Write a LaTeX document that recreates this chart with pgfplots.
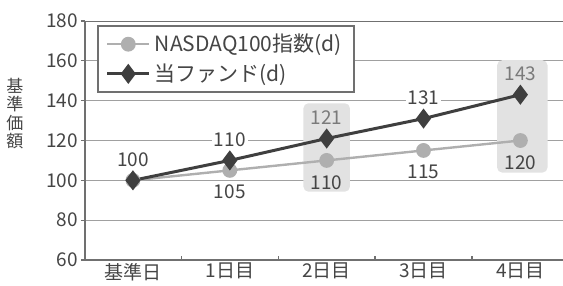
\documentclass[border=0pt]{standalone}
\usepackage{pgfplots}
\pgfplotsset{compat=1.18}
\usepackage{fontspec}
\setmainfont{Noto Sans CJK JP}
\usetikzlibrary{calc}
\definecolor{fundc}{HTML}{3F3F3F}
\definecolor{nasc}{HTML}{AFAFAF}
\definecolor{boxc}{HTML}{E2E2E2}
\definecolor{gridc}{HTML}{A0A0A0}
\definecolor{axc}{HTML}{707070}
\definecolor{txtc}{HTML}{454545}
\definecolor{ltxt}{HTML}{7A7A7A}
\begin{document}
\begin{tikzpicture}[font=\fontsize{9.5}{11}\selectfont]
\begin{axis}[
  name=ax, set layers=standard, scale only axis,
  width=239pt, height=119.5pt,
  xmin=-0.495, xmax=4.44, ymin=60, ymax=180,
  axis lines*=left,
  axis line style={axc, line width=0.9pt},
  ytick={60,80,...,180},
  ymajorgrids, grid style={gridc, line width=0.5pt},
  xtick={0.5,1.5,2.5,3.5},
  xticklabels={},
  extra x ticks={0,1,2,3,4},
  extra x tick labels={基準日,1日目,2日目,3日目,4日目},
  extra x tick style={grid=none, major tick length=0pt, xticklabel style={yshift=2pt}},
  tick style={axc, line width=0.6pt},
  tick align=inside, major tick length=2pt,
  y tick style={xshift=-2pt},
  ticklabel style={text=txtc},
  /pgf/number format/assume math mode=true,
  legend style={at={(0.025,0.983)}, anchor=north west, draw=axc, line width=0.8pt, fill=white, text=txtc, inner xsep=4pt, inner ysep=2pt, row sep=0.5pt, font=\fontsize{10.5}{12}\selectfont},
  legend cell align=left,
  legend image code/.code={\draw[#1, mark repeat=2, mark phase=2] plot coordinates {(0cm,0cm)(0.37cm,0cm)(0.74cm,0cm)};},
]
\fill[boxc, rounded corners=2.5pt, on layer=axis background] (axis cs:1.76,94.3) rectangle (axis cs:2.24,138.7);
\fill[boxc, rounded corners=2.5pt, on layer=axis background] (axis cs:3.76,103.9) rectangle (axis cs:4.28,160.3);
\draw[axc, line width=0.7pt] (rel axis cs:0,1) -- (rel axis cs:1,1);
\coordinate (yl) at (rel axis cs:0,0.613);

\addplot[nasc, line width=1.2pt, mark=*, mark size=3.1pt, mark options={solid}]
  coordinates {(0,100) (1,105) (2,110) (3,115) (4,120)};
\addlegendentry{NASDAQ100指数(d)}
\addplot[fundc, line width=1.5pt, mark=diamond*, mark size=3.8pt, mark options={solid}]
  coordinates {(0,100) (1,110) (2,121) (3,131) (4,143)};
\addlegendentry{当ファンド(d)}

% labels above, white background
\addplot[draw=none, forget plot, nodes near coords, point meta=explicit symbolic,
  nodes near coords style={anchor=center, yshift=10.5pt, fill=white, inner sep=1pt, text=txtc}]
  coordinates {(0,100)[100] (1,110)[110] (3,131)[131]};
% labels below, white background
\addplot[draw=none, forget plot, nodes near coords, point meta=explicit symbolic,
  nodes near coords style={anchor=center, yshift=-10.5pt, fill=white, inner sep=1pt, text=txtc}]
  coordinates {(1,105)[105] (3,115)[115]};
% labels above, in grey boxes
\addplot[draw=none, forget plot, nodes near coords, point meta=explicit symbolic,
  nodes near coords style={anchor=center, yshift=10.5pt, fill=boxc, inner sep=1pt, text=ltxt}]
  coordinates {(2,121)[121] (4,143)[143]};
% labels below, in grey boxes
\addplot[draw=none, forget plot, nodes near coords, point meta=explicit symbolic,
  nodes near coords style={anchor=center, yshift=-11pt, fill=boxc, inner sep=1pt, text=txtc}]
  coordinates {(2,110)[110] (4,120)[120]};
\end{axis}
\node[text=txtc, font=\fontsize{8.5}{9.2}\selectfont, align=center, inner sep=0pt] at ([xshift=-35pt]yl) {基\\準\\価\\額};
\pgfresetboundingbox
\path[use as bounding box] ($(ax.south west)+(-42.5pt,-12.5pt)$) rectangle ($(ax.north east)+(0pt,10.5pt)$);
\end{tikzpicture}
\end{document}
